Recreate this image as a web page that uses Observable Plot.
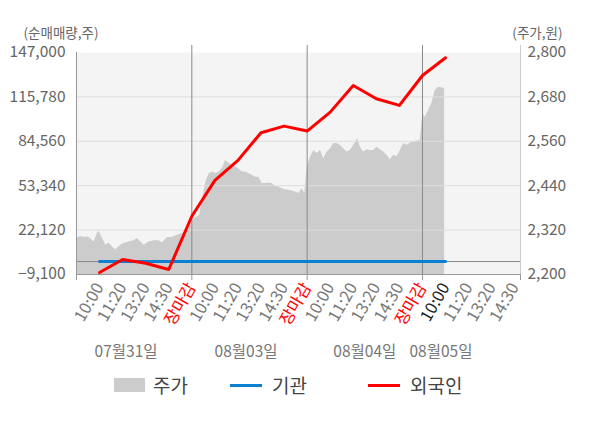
<!DOCTYPE html>
<html><head><meta charset="utf-8">
<script src="https://cdn.jsdelivr.net/npm/d3@7"></script>
<script src="https://cdn.jsdelivr.net/npm/@observablehq/plot@0.6"></script>
<style>
body{margin:0;background:#fff;font-family:'Noto Sans CJK KR',sans-serif;}
#wrap{position:relative;width:600px;height:428px;}
.lg{position:absolute;font-size:19px;color:#444;line-height:22px;}
</style></head><body>
<div id="wrap"><div id="chart"></div>
<div class="lg" style="left:114px;top:378px;width:31px;height:14px;background:#cccccc"></div>
<div class="lg" style="left:153px;top:374px">주가</div>
<div class="lg" style="left:230px;top:384px;width:32px;height:3px;background:#0a80d2"></div>
<div class="lg" style="left:272px;top:374px">기관</div>
<div class="lg" style="left:368px;top:384px;width:32px;height:3px;background:#ff0000"></div>
<div class="lg" style="left:410px;top:374px">외국인</div>
</div>
<script>
const leftTicks = [-9100, 22120, 53340, 84560, 115780, 147000];
const priceTicks = [2200, 2320, 2440, 2560, 2680, 2800];
const slotLabels = ["10:00", "11:20", "13:20", "14:30", "장마감"];
const days = ["07월31일", "08월03일", "08월04일", "08월05일"];
const daySlots = [2.15, 7.35, 12.5, 15.8];
const netSlots = [1,2,3,4,5,6,7,8,9,10,11,12,13,14,15,16];
const foreignNet = [-7700, 1430, -1165, -5590, 31840, 57120, 71160, 90610, 95250, 91740, 105080, 123830, 114490, 109780, 130850, 143280];
const instNet = [0,0,0,0,0,0,0,0,0,0,0,0,0,0,0,0];
const priceSlots = [
 0.00,0.17,0.33,0.54,0.76,0.91,0.98,1.13,1.27,1.41,1.56,1.70,1.92,2.06,2.28,2.49,2.64,2.79,2.93,3.14,3.36,3.58,3.72,3.94,4.15,4.37,4.59,4.73,4.88,4.95,
 5.00,5.12,5.34,5.48,5.63,5.77,5.92,6.06,6.20,6.35,6.46,6.63,6.78,6.92,7.04,7.19,7.33,7.47,7.62,7.76,7.91,8.05,8.19,8.34,8.48,8.63,8.77,8.92,9.06,9.20,9.35,9.49,9.64,9.78,9.90,
 10.00,10.14,10.29,10.43,10.58,10.72,10.87,11.01,11.15,11.30,11.44,11.58,11.73,11.87,12.02,12.19,12.31,12.45,12.60,12.74,12.88,13.03,13.17,13.32,13.46,13.61,13.75,13.90,14.04,14.18,14.33,14.47,14.61,14.76,14.90,
 15.02,15.12,15.26,15.41,15.55,15.69,15.84,15.96];
const prices = [
 2297,2303,2301,2301,2288,2311,2317,2297,2279,2285,2274,2267,2279,2284,2288,2291,2297,2288,2279,2288,2291,2291,2285,2300,2300,2306,2311,2315,2324,2333,
 2341,2351,2360,2409,2455,2473,2477,2473,2477,2490,2508,2500,2495,2490,2486,2477,2477,2473,2468,2463,2463,2446,2446,2447,2446,2438,2436,2432,2429,2428,2426,2423,2419,2432,2419,
 2490,2517,2535,2527,2535,2513,2531,2540,2554,2554,2549,2540,2531,2535,2549,2567,2544,2531,2537,2535,2535,2544,2537,2531,2522,2510,2522,2519,2535,2554,2549,2555,2558,2561,2562,
 2635,2625,2643,2662,2697,2706,2705,2702];

const yMin = leftTicks[0], yMax = leftTicks[leftTicks.length - 1];
const pMin = priceTicks[0], pMax = priceTicks[priceTicks.length - 1];
const toLeft = p => yMin + (p - pMin) / (pMax - pMin) * (yMax - yMin);
const toPrice = v => pMin + (v - yMin) / (yMax - yMin) * (pMax - pMin);
const xMax = 19.25;

const priceRows = priceSlots.map((s, i) => ({slot: s, v: toLeft(prices[i])}));
const foreignRows = netSlots.map((s, i) => ({slot: s, v: foreignNet[i]}));
const instRows = netSlots.map((s, i) => ({slot: s, v: instNet[i]}));

const allSlots = d3.range(1, 20);
const closeSlots = allSlots.filter(s => s % 5 === 0);
const blackSlots = [16];
const graySlots = allSlots.filter(s => s % 5 !== 0 && !blackSlots.includes(s));
const lab = s => slotLabels[(s - 1) % 5];
const fmt = d3.format(",");
const FS = 15.5;
const xAxisOpts = {label: null, tickRotate: -60, tickSize: 0, tickPadding: 10, fontSize: 16.5, tickFormat: lab};

const chart = Plot.plot({
  width: 600, height: 370,
  marginTop: 52, marginBottom: 96, marginLeft: 76, marginRight: 80,
  style: {fontFamily: "'Noto Sans CJK KR', sans-serif", fontSize: FS + "px", color: "#666", background: "transparent", overflow: "visible"},
  x: {domain: [0, xMax], axis: null},
  y: {domain: [yMin, yMax], axis: null},
  marks: [
    Plot.frame({fill: "#f4f4f4", stroke: null}),
    Plot.areaY(priceRows, {x: "slot", y1: yMin, y2: "v", fill: "#cccccc"}),
    Plot.ruleY(leftTicks.slice(1, -1), {stroke: "#dddddd"}),
    Plot.ruleY([0], {stroke: "#8a8a8a"}),
    Plot.ruleX([5, 10, 15], {stroke: "#8a8a8a", insetTop: -7}),
    Plot.ruleX([xMax], {stroke: "#cccccc", insetTop: -7}),
    Plot.ruleX([0], {stroke: "#999"}),
    Plot.ruleY([yMin], {stroke: "#999"}),
    Plot.axisX({label: null, ticks: [0, 5, 10, 15, xMax], tickSize: 6, tickFormat: () => "", stroke: "#999"}),
    Plot.lineY(instRows, {x: "slot", y: "v", stroke: "#0a80d2", strokeWidth: 3}),
    Plot.lineY(foreignRows, {x: "slot", y: "v", stroke: "#ff0000", strokeWidth: 3}),
    Plot.axisY({label: null, ticks: leftTicks, tickSize: 0, tickPadding: 11, tickFormat: fmt, fill: "#666", fontSize: FS}),
    Plot.axisY({label: null, anchor: "right", ticks: leftTicks, tickSize: 0, tickPadding: 7, tickFormat: v => fmt(Math.round(toPrice(v))), fill: "#666", fontSize: FS}),
    Plot.axisX({...xAxisOpts, ticks: graySlots, fill: "#777"}),
    Plot.axisX({...xAxisOpts, ticks: closeSlots, fill: "#ff0000"}),
    Plot.axisX({...xAxisOpts, ticks: blackSlots, fill: "#222"}),
    Plot.text(days, {x: daySlots, text: days, frameAnchor: "bottom", dy: 82, fill: "#777", fontSize: FS}),
    Plot.text(["(순매매량,주)"], {frameAnchor: "top-left", textAnchor: "start", lineAnchor: "middle", dx: -53, dy: -19, fill: "#666", fontSize: 13.5}),
    Plot.text(["(주가,원)"], {frameAnchor: "top-right", textAnchor: "end", lineAnchor: "middle", dx: 42, dy: -19, fill: "#666", fontSize: 13.5})
  ]
});
document.getElementById("chart").appendChild(chart);
</script>
</body></html>
